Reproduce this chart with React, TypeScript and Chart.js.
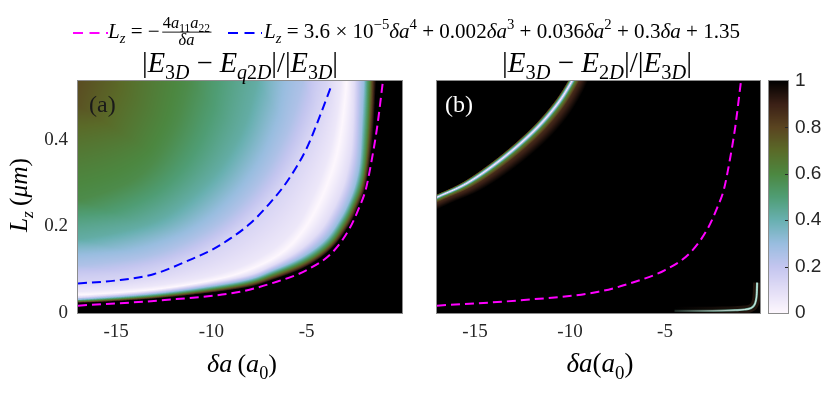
import React, { useEffect, useRef } from 'react';
import { Chart, registerables } from 'chart.js';

Chart.register(...registerables);

// ---------------- data ----------------
const X_RANGE = [-17, 0];
const Y_RANGE = [0, 0.535];
const X_TICKS = [-15, -10, -5];
const Y_TICKS = [0, 0.2, 0.4];
const CBAR_TICKS = [0, 0.2, 0.4, 0.6, 0.8, 1];

// Lz = -4 a11 a22 / δa (magenta, both panels)
const MAG_DA = [-17, -12.7, -8.5, -6.8, -5.0, -3.65, -2.75, -2.25, -1.9, -1.6, -1.3, -1.0];
const MAG_LZ = [0.017, 0.029, 0.049, 0.069, 0.099, 0.14, 0.195, 0.243, 0.285, 0.35, 0.43, 0.535];

// quartic fit (blue, panel a)
const FIT_DA = [-17, -15, -13, -11, -10, -9, -8, -7, -6, -5, -4.3, -3.7];
const FIT_LZ = [0.068, 0.075, 0.09, 0.125, 0.145, 0.172, 0.205, 0.25, 0.305, 0.38, 0.455, 0.525];

// panel (a): level curves of |E3D - Eq2D|/|E3D| (from the corner outwards)
const A_LEVELS = [1, 0.6, 0.3, 0.1, 0, 0.06, 0.14, 0.25, 0.42, 0.58, 0.78];
const A_K_DA = [-17, -12.7, -8.5, -6.8, -5.0, -3.7, -2.8, -2.3, -1.95, -1.7, -1.5, -1.35];
const A_K_LZ = [0.022, 0.034, 0.056, 0.076, 0.107, 0.148, 0.2, 0.245, 0.285, 0.34, 0.42, 0.535];
const A_G_DA = [-17, -12.7, -8.5, -6.8, -5.0, -3.8, -3.0, -2.5, -2.15, -1.95, -1.8, -1.7];
const A_G_LZ = [0.027, 0.04, 0.065, 0.088, 0.121, 0.16, 0.21, 0.255, 0.295, 0.345, 0.43, 0.535];
const A_C_DA = [-17, -12.7, -8.5, -6.8, -5.2, -4.0, -3.2, -2.7, -2.4, -2.2, -2.1, -2.0];
const A_C_LZ = [0.031, 0.046, 0.073, 0.098, 0.13, 0.17, 0.22, 0.265, 0.305, 0.355, 0.44, 0.535];
const A_WI_DA = [-17, -12.7, -8.5, -6.8, -5.4, -4.3, -3.6, -3.1, -2.85, -2.65, -2.55, -2.5];
const A_WI_LZ = [0.036, 0.052, 0.082, 0.11, 0.145, 0.19, 0.24, 0.29, 0.33, 0.38, 0.45, 0.535];
const A_W_DA = [-17, -14, -12, -10, -8.5, -7, -6, -5.2, -4.5, -3.9, -3.4, -3.1, -2.9];
const A_W_LZ = [0.041, 0.05, 0.06, 0.075, 0.092, 0.12, 0.15, 0.19, 0.24, 0.3, 0.37, 0.45, 0.535];
const A_WO_DA = [-17, -14, -12, -10, -8.5, -7.2, -6.2, -5.4, -4.8, -4.2, -3.7, -3.4, -3.2];
const A_WO_LZ = [0.049, 0.058, 0.069, 0.086, 0.106, 0.135, 0.168, 0.208, 0.258, 0.318, 0.388, 0.458, 0.535];
const A_F1_DA = [-17, -15, -13, -11, -9.5, -8, -7, -6, -5.2, -4.5, -4.0];
const A_F1_LZ = [0.07, 0.078, 0.093, 0.125, 0.16, 0.21, 0.255, 0.315, 0.38, 0.455, 0.535];
const A_F2_DA = [-17, -14, -12, -10, -8.5, -7.2, -6.2, -5.6, -5.2];
const A_F2_LZ = [0.11, 0.125, 0.15, 0.195, 0.25, 0.32, 0.4, 0.47, 0.535];
const A_F3_DA = [-17, -15, -13, -11.5, -10, -9, -8.2, -7.6];
const A_F3_LZ = [0.17, 0.185, 0.21, 0.25, 0.31, 0.37, 0.44, 0.535];
const A_F4_DA = [-17, -15.5, -14, -12.8, -11.8, -11.2];
const A_F4_LZ = [0.26, 0.28, 0.31, 0.36, 0.44, 0.535];
const A_F5_DA = [-17.4, -17, -16.6];
const A_F5_LZ = [0.49, 0.535, 0.58];

// panel (b): ridge of |E3D - E2D|/|E3D| (arc) and corner ridge
const ARC_DA = [-18.5, -17, -15.4, -13.6, -11.9, -10.7, -9.9, -9.4];
const ARC_LZ = [0.235, 0.267, 0.3, 0.355, 0.42, 0.48, 0.535, 0.58];
const EDGE_DA = [-4.5, -3, -2, -1.3, -0.8, -0.5, -0.32, -0.22, -0.17, -0.15];
const EDGE_LZ = [0.005, 0.005, 0.0055, 0.0065, 0.008, 0.011, 0.017, 0.028, 0.045, 0.07];

// colormap
const CMAP_POS = [0, 0.1, 0.2, 0.3, 0.4, 0.5, 0.6, 0.7, 0.8, 0.9, 1];
const CMAP_HEX = ['#fdf7fd', '#e2ddf6', '#c3c5ef', '#98bddf', '#68b0b0', '#4f9d74', '#4c8740', '#5a6a28', '#5a4420', '#3b2016', '#000000'];

// ---------------- helpers ----------------
const SERIF = '"Liberation Serif", "DejaVu Serif", serif';
const SANS = '"Liberation Sans", Arial, sans-serif';

const LUT = (() => {
  const lut = new Uint8ClampedArray(1024 * 3);
  const rgb = CMAP_HEX.map((h) => [parseInt(h.slice(1, 3), 16), parseInt(h.slice(3, 5), 16), parseInt(h.slice(5, 7), 16)]);
  for (let i = 0; i < 1024; i++) {
    const v = i / 1023;
    let k = 0;
    while (k < CMAP_POS.length - 2 && v > CMAP_POS[k + 1]) k++;
    const t = (v - CMAP_POS[k]) / (CMAP_POS[k + 1] - CMAP_POS[k]);
    for (let c = 0; c < 3; c++) lut[i * 3 + c] = rgb[k][c] + (rgb[k + 1][c] - rgb[k][c]) * t;
  }
  return lut;
})();
const lutIdx = (v: number) => Math.round(Math.min(1, Math.max(0, v)) * 1023) * 3;

type Contour = { da: number[]; lz: number[]; v: number; off?: number };

function catmull(pts: number[][], n: number): number[][] {
  const out: number[][] = [];
  for (let i = 0; i < pts.length - 1; i++) {
    const p0 = pts[Math.max(0, i - 1)], p1 = pts[i], p2 = pts[i + 1], p3 = pts[Math.min(pts.length - 1, i + 2)];
    for (let k = 0; k < n; k++) {
      const t = k / n, t2 = t * t, t3 = t2 * t;
      out.push([0, 1].map((d) => 0.5 * (2 * p1[d] + (-p0[d] + p2[d]) * t + (2 * p0[d] - 5 * p1[d] + 4 * p2[d] - p3[d]) * t2 + (-p0[d] + 3 * p1[d] - 3 * p2[d] + p3[d]) * t3)));
    }
  }
  out.push(pts[pts.length - 1]);
  return out;
}

function drawField(chart: any, inner: number, contours: Contour[], extend: boolean) {
  const ca = chart.chartArea;
  const xs = chart.scales.x, ys = chart.scales.y;
  const x0 = Math.round(ca.left), y0 = Math.round(ca.top);
  const w = Math.round(ca.right) - x0, h = Math.round(ca.bottom) - y0;
  const cx = xs.getPixelForValue(X_RANGE[1]), cy = ys.getPixelForValue(Y_RANGE[0]);
  const NB = 3000, HALF = Math.PI / 2;
  const radii = contours.map((c) => {
    const raw = c.da.map((d, i) => [cx - xs.getPixelForValue(d), cy - ys.getPixelForValue(c.lz[i])]);
    let pts = catmull(raw, 10);
    if (extend) {
      const a = pts[0], z = pts[pts.length - 1];
      pts = [[a[0] + 3000, a[1]], ...pts, [z[0], z[1] + 3000]];
    }
    const arr = new Float64Array(NB);
    for (let b = 0; b < NB; b++) {
      const th = ((b + 0.5) / NB) * HALF;
      const dx = Math.cos(th), dy = Math.sin(th);
      let best = Infinity;
      for (let s = 0; s < pts.length - 1; s++) {
        const px = pts[s][0], py = pts[s][1];
        const ex = pts[s + 1][0] - px, ey = pts[s + 1][1] - py;
        const den = dx * ey - dy * ex;
        if (Math.abs(den) < 1e-12) continue;
        const t = (px * ey - py * ex) / den;
        const q = (px * dy - py * dx) / den;
        if (q >= 0 && q <= 1 && t > 0 && t < best) best = t;
      }
      arr[b] = best === Infinity ? NaN : best + (c.off || 0);
    }
    return arr;
  });
  const img = new ImageData(w, h);
  const data = img.data;
  const nC = contours.length;
  for (let j = 0; j < h; j++) {
    const vv = cy - (y0 + j + 0.5);
    for (let i = 0; i < w; i++) {
      const uu = cx - (x0 + i + 0.5);
      const th = Math.atan2(Math.max(vv, 0), Math.max(uu, 0));
      const r = Math.hypot(uu, vv);
      let b = Math.floor((th / HALF) * NB);
      if (b >= NB) b = NB - 1;
      if (b < 0) b = 0;
      let pr = -1e9, pv = inner, val = NaN, first = true;
      for (let k = 0; k < nC; k++) {
        let rk = radii[k][b];
        if (rk !== rk) continue;
        if (!first && rk < pr) rk = pr;
        if (r < rk) {
          val = first ? inner : pv + ((contours[k].v - pv) * (r - pr)) / Math.max(rk - pr, 1e-6);
          break;
        }
        first = false;
        pr = rk;
        pv = contours[k].v;
      }
      if (val !== val) val = pv;
      const li = lutIdx(val);
      const o = (j * w + i) * 4;
      data[o] = LUT[li];
      data[o + 1] = LUT[li + 1];
      data[o + 2] = LUT[li + 2];
      data[o + 3] = 255;
    }
  }
  const off = document.createElement('canvas');
  off.width = w;
  off.height = h;
  off.getContext('2d')!.putImageData(img, 0, 0);
  chart.ctx.drawImage(off, x0, y0);
}

// ---- math text ----
type Txt = { t: string; i?: boolean; k?: number; dy?: number };
type Frac = { num: Txt[]; den: Txt[]; k: number };
type Seg = Txt | Frac;
const I = (t: string): Txt => ({ t, i: true });
const R = (t: string): Txt => ({ t });
const SB = (t: string, i = false): Txt => ({ t, i, k: 0.7, dy: 0.25 });
const SP = (t: string, i = false): Txt => ({ t, i, k: 0.7, dy: -0.42 });
const fnt = (size: number, italic?: boolean) => `${italic ? 'italic ' : ''}${size.toFixed(2)}px ${SERIF}`;

function segW(ctx: CanvasRenderingContext2D, s: Seg, size: number): number {
  if ('num' in s) {
    const fs = size * s.k;
    return Math.max(runW(ctx, s.num, fs), runW(ctx, s.den, fs)) + size * 0.3;
  }
  ctx.font = fnt(size * (s.k ?? 1), s.i);
  return ctx.measureText(s.t).width;
}
function runW(ctx: CanvasRenderingContext2D, segs: Seg[], size: number): number {
  return segs.reduce((a, s) => a + segW(ctx, s, size), 0);
}
function runDraw(ctx: CanvasRenderingContext2D, segs: Seg[], x: number, y: number, size: number) {
  for (const s of segs) {
    const w = segW(ctx, s, size);
    if ('num' in s) {
      const fs = size * s.k;
      const wn = runW(ctx, s.num, fs), wd = runW(ctx, s.den, fs);
      const axis = y - size * 0.28;
      runDraw(ctx, s.num, x + (w - wn) / 2, axis - size * 0.2, fs);
      runDraw(ctx, s.den, x + (w - wd) / 2, axis + size * 0.6, fs);
      ctx.fillRect(x + size * 0.12, axis - 0.45, w - size * 0.2, 0.9);
    } else {
      ctx.font = fnt(size * (s.k ?? 1), s.i);
      ctx.fillText(s.t, x, y + (s.dy ?? 0) * size);
    }
    x += w;
  }
}
function drawMath(ctx: CanvasRenderingContext2D, segs: Seg[], x: number, y: number, size: number, align: 'left' | 'center', width?: number) {
  ctx.textAlign = 'left';
  ctx.textBaseline = 'alphabetic';
  let sz = size;
  if (width) sz = (size * width) / runW(ctx, segs, size);
  const w = runW(ctx, segs, sz);
  runDraw(ctx, segs, align === 'center' ? x - w / 2 : x, y, sz);
  return sz;
}

const LEG1: Seg[] = [I('L'), SB('z', true), R(' = −'), { num: [R('4'), I('a'), SB('11'), I('a'), SB('22')], den: [I('δa')], k: 0.78 }];
const LEG2: Seg[] = [I('L'), SB('z', true), R(' = 3.6 × 10'), SP('−5'), I('δa'), SP('4'), R(' + 0.002'), I('δa'), SP('3'), R(' + 0.036'), I('δa'), SP('2'), R(' + 0.3'), I('δa'), R(' + 1.35')];
const TITLE_A: Seg[] = [R('|'), I('E'), SB('3'), SB('D', true), R(' − '), I('E'), SB('q', true), SB('2'), SB('D', true), R('|/|'), I('E'), SB('3'), SB('D', true), R('|')];
const TITLE_B: Seg[] = [R('|'), I('E'), SB('3'), SB('D', true), R(' − '), I('E'), SB('2'), SB('D', true), R('|/|'), I('E'), SB('3'), SB('D', true), R('|')];
const XT_A: Seg[] = [I('δa'), R('\u2009('), I('a'), SB('0'), R(')')];
const XT_B: Seg[] = [I('δa'), R('('), I('a'), SB('0'), R(')')];
const YT: Seg[] = [I('L'), SB('z', true), R('\u2009('), I('μm'), R(')')];

function frame(chart: any) {
  const { left, top, right, bottom } = chart.chartArea;
  const ctx = chart.ctx;
  ctx.save();
  ctx.strokeStyle = '#8c8c8c';
  ctx.lineWidth = 1;
  ctx.strokeRect(Math.round(left) - 0.5, Math.round(top) - 0.5, Math.round(right - left) + 1, Math.round(bottom - top) + 1);
  ctx.restore();
}

function lineDs(da: number[], lz: number[], color: any, width: number, dash: number[]) {
  return {
    data: da.map((x, i) => ({ x, y: lz[i] })),
    showLine: true,
    borderColor: color,
    borderWidth: width,
    borderDash: dash,
    pointRadius: 0,
    cubicInterpolationMode: 'monotone' as const,
    fill: false,
    clip: 0,
  };
}

// horizontal fade for the corner ridge of panel (b)
function edgeFade(c0: string, c1: string) {
  return (c: any) => {
    const ch = c.chart;
    if (!ch.chartArea) return c1;
    const xs = ch.scales.x;
    const g = ch.ctx.createLinearGradient(xs.getPixelForValue(EDGE_DA[0]), 0, xs.getPixelForValue(-0.6), 0);
    g.addColorStop(0, c0);
    g.addColorStop(1, c1);
    return g;
  };
}

const tickFont = { family: SERIF, size: 19 };

function xScale() {
  return {
    type: 'linear' as const,
    min: X_RANGE[0],
    max: X_RANGE[1],
    afterBuildTicks: (s: any) => { s.ticks = X_TICKS.map((v) => ({ value: v })); },
    afterFit: (s: any) => { s.height = 82; },
    grid: { display: false, drawTicks: false },
    border: { display: false },
    ticks: { font: tickFont, color: '#262626', padding: 8, callback: (v: any) => String(v) },
  };
}

function makeA(canvas: HTMLCanvasElement) {
  const levels = [
    [A_K_DA, A_K_LZ], [A_G_DA, A_G_LZ], [A_C_DA, A_C_LZ], [A_WI_DA, A_WI_LZ], [A_W_DA, A_W_LZ], [A_WO_DA, A_WO_LZ],
    [A_F1_DA, A_F1_LZ], [A_F2_DA, A_F2_LZ], [A_F3_DA, A_F3_LZ], [A_F4_DA, A_F4_LZ], [A_F5_DA, A_F5_LZ],
  ];
  const contours: Contour[] = levels.map(([da, lz], k) => ({ da, lz, v: A_LEVELS[k] }));
  return new Chart(canvas, {
    type: 'scatter',
    data: {
      datasets: [
        lineDs(MAG_DA, MAG_LZ, '#ff00ff', 2, [9, 5]),
        lineDs(FIT_DA, FIT_LZ, '#0000ff', 2, [9, 5]),
      ] as any,
    },
    options: {
      responsive: false,
      animation: false,
      devicePixelRatio: 1,
      events: [],
      layout: { padding: { left: 0, top: 81, right: 428, bottom: 0 } },
      plugins: { legend: { display: false }, tooltip: { enabled: false } },
      scales: {
        x: xScale(),
        y: {
          type: 'linear',
          min: Y_RANGE[0],
          max: Y_RANGE[1],
          afterBuildTicks: (s: any) => { s.ticks = Y_TICKS.map((v) => ({ value: v })); },
          afterFit: (s: any) => { s.width = 78; },
          grid: { display: false, drawTicks: false },
          border: { display: false },
          ticks: { font: tickFont, color: '#262626', padding: 10, callback: (v: any) => String(v) },
        },
      },
    } as any,
    plugins: [
      {
        id: 'fieldA',
        beforeDatasetsDraw: (chart: any) => drawField(chart, 1, contours, true),
        afterDatasetsDraw: (chart: any) => frame(chart),
        afterDraw: (chart: any) => {
          const ctx: CanvasRenderingContext2D = chart.ctx;
          ctx.save();
          // legend
          ctx.lineWidth = 2;
          ctx.setLineDash([10, 6.5]);
          ctx.strokeStyle = '#ff00ff';
          ctx.beginPath(); ctx.moveTo(73, 33); ctx.lineTo(108, 33); ctx.stroke();
          ctx.strokeStyle = '#0000ff';
          ctx.beginPath(); ctx.moveTo(228, 33); ctx.lineTo(262, 33); ctx.stroke();
          ctx.setLineDash([]);
          ctx.fillStyle = '#000';
          const ls = drawMath(ctx, LEG2, 264, 38, 17, 'left', 476);
          drawMath(ctx, LEG1, 108, 38, ls, 'left');
          // titles
          drawMath(ctx, TITLE_A, 240, 72, 24, 'center', 196);
          drawMath(ctx, TITLE_B, 597, 72, 24, 'center', 190);
          // x title
          drawMath(ctx, XT_A, 242, 372, 22, 'center', 70);
          // y title
          ctx.save();
          ctx.translate(27, 195);
          ctx.rotate(-Math.PI / 2);
          drawMath(ctx, YT, 0, 0, 22, 'center', 74);
          ctx.restore();
          // panel label
          ctx.font = `24px ${SERIF}`;
          ctx.fillStyle = '#1a1a1a';
          ctx.fillText('(a)', 89, 112);
          ctx.restore();
        },
      },
    ],
  });
}

function makeB(canvas: HTMLCanvasElement) {
  const bands: [number, number][] = [[-16, 1], [-7, 0.87], [-3, 0.62], [-1.3, 0.32], [0, 0.02], [1.1, 0.3], [2.3, 0.6], [4, 1]];
  const contours: Contour[] = bands.map(([off, v]) => ({ da: ARC_DA, lz: ARC_LZ, v, off }));
  return new Chart(canvas, {
    type: 'scatter',
    data: {
      datasets: [
        lineDs(MAG_DA, MAG_LZ, '#ff00ff', 2, [9, 5]),
        lineDs(EDGE_DA, EDGE_LZ, edgeFade('rgba(230,240,240,0)', 'rgba(235,245,245,0.95)'), 0.9, []),
        lineDs(EDGE_DA, EDGE_LZ, edgeFade('rgba(100,150,130,0.25)', 'rgba(120,190,170,1)'), 2.2, []),
        lineDs(EDGE_DA, EDGE_LZ, edgeFade('rgba(95,60,40,0)', 'rgba(95,60,40,0.35)'), 8, []),
      ] as any,
    },
    options: {
      responsive: false,
      animation: false,
      devicePixelRatio: 1,
      events: [],
      layout: { padding: { left: 17, top: 81, right: 0, bottom: 0 } },
      plugins: { legend: { display: false }, tooltip: { enabled: false } },
      scales: {
        x: xScale(),
        y: { type: 'linear', display: false, min: Y_RANGE[0], max: Y_RANGE[1] },
        c: {
          type: 'linear',
          position: 'right',
          min: 0,
          max: 1,
          afterBuildTicks: (s: any) => { s.ticks = CBAR_TICKS.map((v) => ({ value: v })); },
          afterFit: (s: any) => { s.width = 70; },
          grid: { display: false, drawTicks: false },
          border: { display: false },
          ticks: { font: { family: SANS, size: 19 }, color: '#262626', padding: 35, callback: (v: any) => String(v) },
        },
      },
    } as any,
    plugins: [
      {
        id: 'fieldB',
        beforeDatasetsDraw: (chart: any) => drawField(chart, 1, contours, false),
        afterDatasetsDraw: (chart: any) => frame(chart),
        afterDraw: (chart: any) => {
          const ctx: CanvasRenderingContext2D = chart.ctx;
          const ca = chart.chartArea;
          const cs = chart.scales.c;
          ctx.save();
          // colorbar
          const bx = Math.round(ca.right) + 9, bw = 19;
          const top = Math.round(cs.getPixelForValue(1)), bot = Math.round(cs.getPixelForValue(0));
          for (let py = top; py < bot; py++) {
            const li = lutIdx(cs.getValueForPixel(py + 0.5));
            ctx.fillStyle = `rgb(${LUT[li]},${LUT[li + 1]},${LUT[li + 2]})`;
            ctx.fillRect(bx, py, bw, 1);
          }
          ctx.strokeStyle = '#8c8c8c';
          ctx.lineWidth = 1;
          ctx.strokeRect(bx - 0.5, top - 0.5, bw + 1, bot - top + 1);
          ctx.strokeStyle = '#262626';
          for (const v of CBAR_TICKS.slice(1, -1)) {
            const y = Math.round(cs.getPixelForValue(v)) + 0.5;
            ctx.beginPath(); ctx.moveTo(bx + bw - 3, y); ctx.lineTo(bx + bw, y); ctx.stroke();
          }
          // x title
          ctx.fillStyle = '#000';
          drawMath(ctx, XT_B, 600 - 420, 372, 22, 'center', 67);
          // panel label
          ctx.font = `24px ${SERIF}`;
          ctx.fillStyle = '#ffffff';
          ctx.textAlign = 'left';
          ctx.fillText('(b)', 445 - 420, 112);
          ctx.restore();
        },
      },
    ],
  });
}

export default function App() {
  const refA = useRef<HTMLCanvasElement>(null);
  const refB = useRef<HTMLCanvasElement>(null);
  useEffect(() => {
    const a = makeA(refA.current!);
    const b = makeB(refB.current!);
    return () => {
      a.destroy();
      b.destroy();
    };
  }, []);
  return (
    <div style={{ position: 'fixed', left: 0, top: 0, width: 830, height: 395, background: '#ffffff' }}>
      <canvas ref={refA} width={830} height={395} style={{ position: 'absolute', left: 0, top: 0 }} />
      <canvas ref={refB} width={410} height={395} style={{ position: 'absolute', left: 420, top: 0 }} />
    </div>
  );
}
